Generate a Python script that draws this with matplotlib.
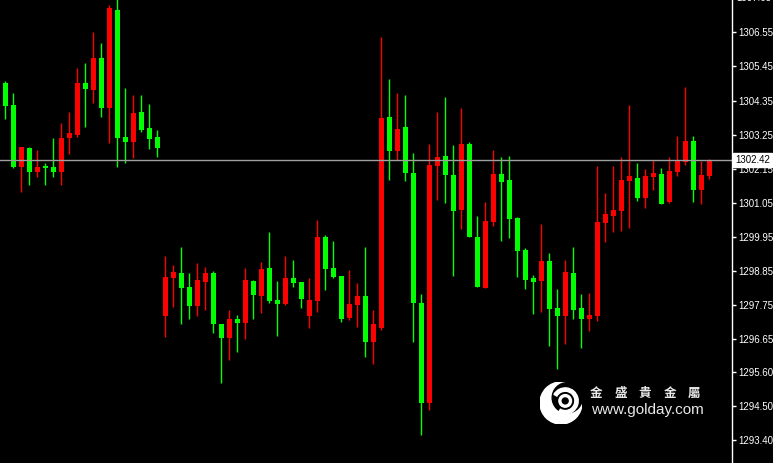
import matplotlib
matplotlib.use('Agg')
import matplotlib.pyplot as plt
import matplotlib.transforms as mtransforms
from matplotlib.patches import Circle, Wedge

# OHLC
opens = [1304.91, 1304.20, 1302.21, 1302.82, 1302.05, 1302.25, 1302.21, 1302.05, 1303.13, 1303.24,
         1304.91, 1304.69, 1305.73, 1304.12, 1307.27, 1303.18, 1303.02, 1303.99, 1303.47, 1303.18,
         1297.40, 1298.63, 1298.79, 1298.34, 1297.73, 1298.50, 1298.77, 1297.14, 1296.70, 1297.30,
         1297.18, 1298.54, 1298.04, 1298.96, 1297.91, 1297.78, 1298.63, 1298.49, 1297.41, 1297.88,
         1299.96, 1298.94, 1298.69, 1297.32, 1297.75, 1298.04, 1296.57, 1297.02, 1303.81, 1302.73,
         1303.48, 1302.00, 1297.81, 1294.58, 1302.25, 1302.56, 1301.95, 1300.82, 1302.95, 1299.94,
         1298.31, 1300.44, 1301.98, 1301.78, 1300.55, 1299.53, 1298.61, 1298.53, 1299.17, 1297.65,
         1297.41, 1298.79, 1297.66, 1297.30, 1297.40, 1300.39, 1300.62, 1300.78, 1301.75, 1301.86,
         1301.19, 1301.89, 1301.98, 1301.08, 1302.05, 1302.37, 1303.05, 1301.46, 1301.92]
highs = [1304.99, 1304.60, 1302.86, 1302.86, 1302.75, 1302.32, 1303.13, 1303.61, 1303.99, 1305.39,
         1305.55, 1306.55, 1306.21, 1307.43, 1307.65, 1304.74, 1304.53, 1304.53, 1304.24, 1303.40,
         1299.33, 1299.04, 1299.63, 1298.77, 1299.10, 1298.99, 1298.86, 1297.14, 1297.59, 1297.43,
         1298.94, 1298.56, 1299.15, 1300.12, 1298.53, 1299.33, 1299.20, 1298.50, 1298.61, 1300.49,
         1300.01, 1299.83, 1298.69, 1298.88, 1298.45, 1299.63, 1297.59, 1306.39, 1305.03, 1304.58,
         1304.53, 1302.65, 1298.10, 1302.94, 1303.99, 1304.47, 1302.91, 1304.10, 1303.02, 1300.62,
         1301.08, 1302.75, 1302.54, 1302.56, 1300.60, 1299.58, 1298.72, 1300.36, 1299.42, 1298.27,
         1299.20, 1299.63, 1298.11, 1298.15, 1302.24, 1301.37, 1302.24, 1302.54, 1304.20, 1302.32,
         1302.13, 1302.43, 1302.16, 1302.54, 1303.20, 1304.77, 1303.20, 1302.40, 1302.46]
lows = [1303.75, 1302.17, 1301.41, 1301.62, 1301.89, 1301.62, 1301.89, 1301.62, 1302.62, 1303.18,
        1303.50, 1304.26, 1303.83, 1302.97, 1302.21, 1302.32, 1302.48, 1303.34, 1302.78, 1302.54,
        1296.73, 1297.68, 1297.14, 1297.30, 1297.41, 1297.59, 1296.86, 1295.23, 1295.98, 1296.23,
        1296.66, 1297.30, 1297.48, 1297.83, 1296.76, 1297.75, 1298.34, 1297.65, 1297.00, 1297.54,
        1298.24, 1298.62, 1297.21, 1297.27, 1297.05, 1296.08, 1295.85, 1296.95, 1301.78, 1302.43,
        1301.76, 1296.57, 1293.56, 1294.36, 1301.14, 1301.03, 1298.69, 1300.19, 1299.94, 1298.32,
        1298.31, 1300.30, 1299.83, 1299.90, 1298.66, 1298.26, 1297.46, 1297.54, 1296.44, 1295.68,
        1296.48, 1297.30, 1296.37, 1296.92, 1297.25, 1299.79, 1300.12, 1300.14, 1300.23, 1301.12,
        1300.89, 1301.46, 1301.01, 1301.03, 1301.91, 1302.27, 1301.08, 1301.01, 1301.82]
closes = [1304.17, 1302.21, 1302.86, 1302.05, 1302.21, 1302.18, 1302.05, 1303.13, 1303.29, 1304.91,
          1304.71, 1305.73, 1304.12, 1307.32, 1303.15, 1303.02, 1303.95, 1303.40, 1303.12, 1302.83,
          1298.66, 1298.83, 1298.31, 1297.73, 1298.56, 1298.79, 1297.13, 1296.70, 1297.30, 1297.18,
          1298.56, 1298.07, 1298.92, 1297.88, 1297.78, 1298.62, 1298.47, 1297.95, 1297.91, 1299.96,
          1298.91, 1298.66, 1297.29, 1297.78, 1298.04, 1296.57, 1297.14, 1303.77, 1302.73, 1303.43,
          1302.00, 1297.81, 1294.58, 1302.27, 1302.54, 1301.95, 1300.79, 1302.95, 1299.94, 1298.32,
          1300.46, 1301.98, 1301.73, 1300.53, 1299.50, 1298.56, 1298.50, 1299.17, 1297.62, 1297.41,
          1298.82, 1297.59, 1297.30, 1297.44, 1300.44, 1300.68, 1300.82, 1301.79, 1301.91, 1301.19,
          1301.91, 1302.02, 1301.01, 1302.08, 1302.43, 1303.05, 1301.46, 1301.95, 1302.42]

price_ticks = ['1306.55', '1305.45', '1304.35', '1303.25', '1302.15', '1301.05', '1299.95',
               '1298.85', '1297.75', '1296.65', '1295.60', '1294.50', '1293.40']
last_price = 1302.42
brand_chars = ['金', '盛', '貴', '金', '屬']
brand_url = 'www.golday.com'

UP = '#ff0000'
DOWN = '#00ff00'

fig = plt.figure(figsize=(7.73, 4.63), dpi=100, facecolor='black')
ax = fig.add_axes([0, 0, 732 / 773, 1])
ax.set_facecolor('black')

xs = list(range(len(opens)))
for i in xs:
    o, h, l, c = opens[i], highs[i], lows[i], closes[i]
    col = UP if c >= o else DOWN
    ax.vlines(i, l, h, color=col, linewidth=1)
    body = max(abs(c - o), 0.06)
    ax.bar(i, body, bottom=min(o, c), width=0.625, color=col, linewidth=0)

ax.axhline(last_price, color='#a0a0a0', linewidth=1)

ax.set_xlim(-0.625, -0.625 + 732 / 8)
ax.set_ylim(1307.592 - 463 / 31.0, 1307.592)

for s in ['top', 'bottom', 'left']:
    ax.spines[s].set_visible(False)
ax.spines['right'].set_color('white')
ax.spines['right'].set_linewidth(1)
ax.set_xticks([])
ax.yaxis.tick_right()
ax.set_yticks([float(t) for t in price_ticks])
ax.set_yticklabels(price_ticks)
ax.tick_params(axis='y', colors='white', length=3, width=1, pad=1.5, labelsize=7)
for lab in ax.get_yticklabels():
    lab.set_fontfamily('Liberation Sans')

trans = mtransforms.blended_transform_factory(ax.transAxes, ax.transData)
ax.text(1.0065, 1307.65, '1307.65', transform=trans, color='white', fontsize=7,
        family='Liberation Sans', va='center', ha='left', clip_on=False)
ax.text(1.0045, last_price, '1302.42', transform=trans, color='black', fontsize=7,
        family='Liberation Sans', va='center', ha='left', clip_on=False,
        bbox=dict(boxstyle='square,pad=0.2', facecolor='white', edgecolor='white'))

# watermark logo
lx, ly = 561 / 773, 1 - 403 / 463
r = 21 / 773
logo_ax = fig.add_axes([lx - r, ly - 21 / 463, 2 * r, 42 / 463])
logo_ax.set_xlim(-1, 1)
logo_ax.set_ylim(-1, 1)
logo_ax.axis('off')
logo_ax.add_patch(Circle((0, 0), 1, color='white'))
logo_ax.add_patch(Circle((0.3, 0.25), 0.72, color='black'))
logo_ax.add_patch(Wedge((0.2, 0.1), 0.62, -120, 150, width=0.16, color='white'))
logo_ax.add_patch(Circle((0.2, 0.1), 0.3, color='white'))
logo_ax.add_patch(Circle((0.2, 0.1), 0.14, color='black'))

for k, ch in enumerate(brand_chars):
    fig.text((596 + 24.5 * k) / 773, 1 - 393 / 463, ch, color='#e8e8e8', fontsize=9,
             fontweight='bold', family=['Noto Sans CJK TC', 'DejaVu Sans'],
             va='center', ha='center')
fig.text(591 / 773, 1 - 410 / 463, brand_url, color='#e8e8e8', fontsize=11,
         family='Liberation Sans', va='center', ha='left')

fig.savefig('out.png', dpi=100, facecolor='black')
